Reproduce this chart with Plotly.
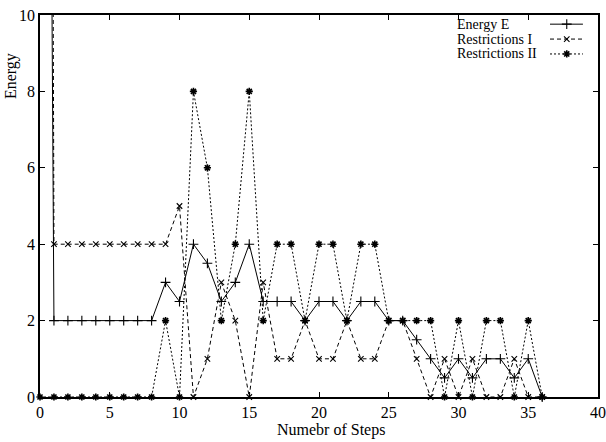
import plotly.graph_objects as go

steps = list(range(0, 37))
energy_e = [60, 2, 2, 2, 2, 2, 2, 2, 2, 3, 2.5, 4, 3.5, 2.5, 3, 4, 2.5, 2.5, 2.5, 2,
            2.5, 2.5, 2, 2.5, 2.5, 2, 2, 1.5, 1, 0.5, 1, 0.5, 1, 1, 0.5, 1, 0]
restr_1 = [120, 4, 4, 4, 4, 4, 4, 4, 4, 4, 5, 0, 1, 3, 2, 0, 3, 1, 1, 2,
           1, 1, 2, 1, 1, 2, 2, 1, 0, 1, 0, 1, 0, 0, 1, 0, 0]
restr_2 = [0, 0, 0, 0, 0, 0, 0, 0, 0, 2, 0, 8, 6, 2, 4, 8, 2, 4, 4, 2,
           4, 4, 2, 4, 4, 2, 2, 2, 2, 0, 2, 0, 2, 2, 0, 2, 0]
series_names = ["Energy E", "Restrictions I", "Restrictions II"]
x_ticks = [0, 5, 10, 15, 20, 25, 30, 35, 40]
y_ticks = [0, 2, 4, 6, 8, 10]

FONT = "Liberation Serif"
styles = [
    dict(dash="solid", symbol="cross-thin", size=7, lw=1.1),
    dict(dash="4px,3px", symbol="x-thin", size=5.5, lw=1.1),
    dict(dash="2px,2px", symbol="asterisk", size=6, lw=1.6),
]

fig = go.Figure()
for name, ys, st in zip(series_names, [energy_e, restr_1, restr_2], styles):
    fig.add_trace(go.Scatter(
        x=steps, y=ys, mode="lines+markers", name=name, showlegend=False,
        line=dict(color="black", width=1.0, dash=st["dash"]),
        marker=dict(symbol=st["symbol"], size=st["size"], color="black",
                    line=dict(color="black", width=st["lw"])),
        cliponaxis=False,
    ))

# custom gnuplot-style legend (text left, sample right)
rows = [0.976, 0.937, 0.898]
for name, st, ry in zip(series_names, styles, rows):
    fig.add_annotation(text=name, xref="paper", yref="paper", x=0.745, y=ry,
                       xanchor="left", yanchor="middle", showarrow=False,
                       borderpad=0,
                       font=dict(family=FONT, size=14, color="black"))
    fig.add_trace(go.Scatter(
        x=[0.914, 0.973], y=[ry, ry], xaxis="x2", yaxis="y2", mode="lines",
        showlegend=False, hoverinfo="skip",
        line=dict(color="black", width=1.0, dash=st["dash"])))
    fig.add_trace(go.Scatter(
        x=[0.944], y=[ry], xaxis="x2", yaxis="y2", mode="markers",
        showlegend=False, hoverinfo="skip",
        marker=dict(symbol=st["symbol"], size=st["size"], color="black",
                    line=dict(color="black", width=st["lw"]))))

axis_common = dict(showgrid=False, zeroline=False, showline=True, linecolor="black",
                   linewidth=1.5, mirror="ticks", ticks="inside", ticklen=5,
                   tickcolor="black", tickwidth=1, automargin=False,
                   tickfont=dict(family=FONT, size=16, color="black"))
fig.update_layout(
    width=606, height=442,
    margin=dict(l=40, r=8, t=15, b=45),
    paper_bgcolor="white", plot_bgcolor="white",
    xaxis=dict(range=[0, 40], tickvals=x_ticks, **axis_common),
    yaxis=dict(range=[0, 10], tickvals=y_ticks, **axis_common),
    xaxis2=dict(range=[0, 1], overlaying="x", visible=False, domain=[0, 1]),
    yaxis2=dict(range=[0, 1], overlaying="y", visible=False),
)
fig.add_annotation(text="Energy", xref="paper", yref="paper", x=-0.052, y=0.84,
                   textangle=-90, showarrow=False, xanchor="center", yanchor="middle",
                   font=dict(family=FONT, size=16, color="black"))
fig.add_annotation(text="Numebr of Steps", xref="paper", yref="paper", x=0.522, y=-0.086,
                   showarrow=False, xanchor="center", yanchor="middle",
                   font=dict(family=FONT, size=16, color="black"))

fig.write_html("out.html")
